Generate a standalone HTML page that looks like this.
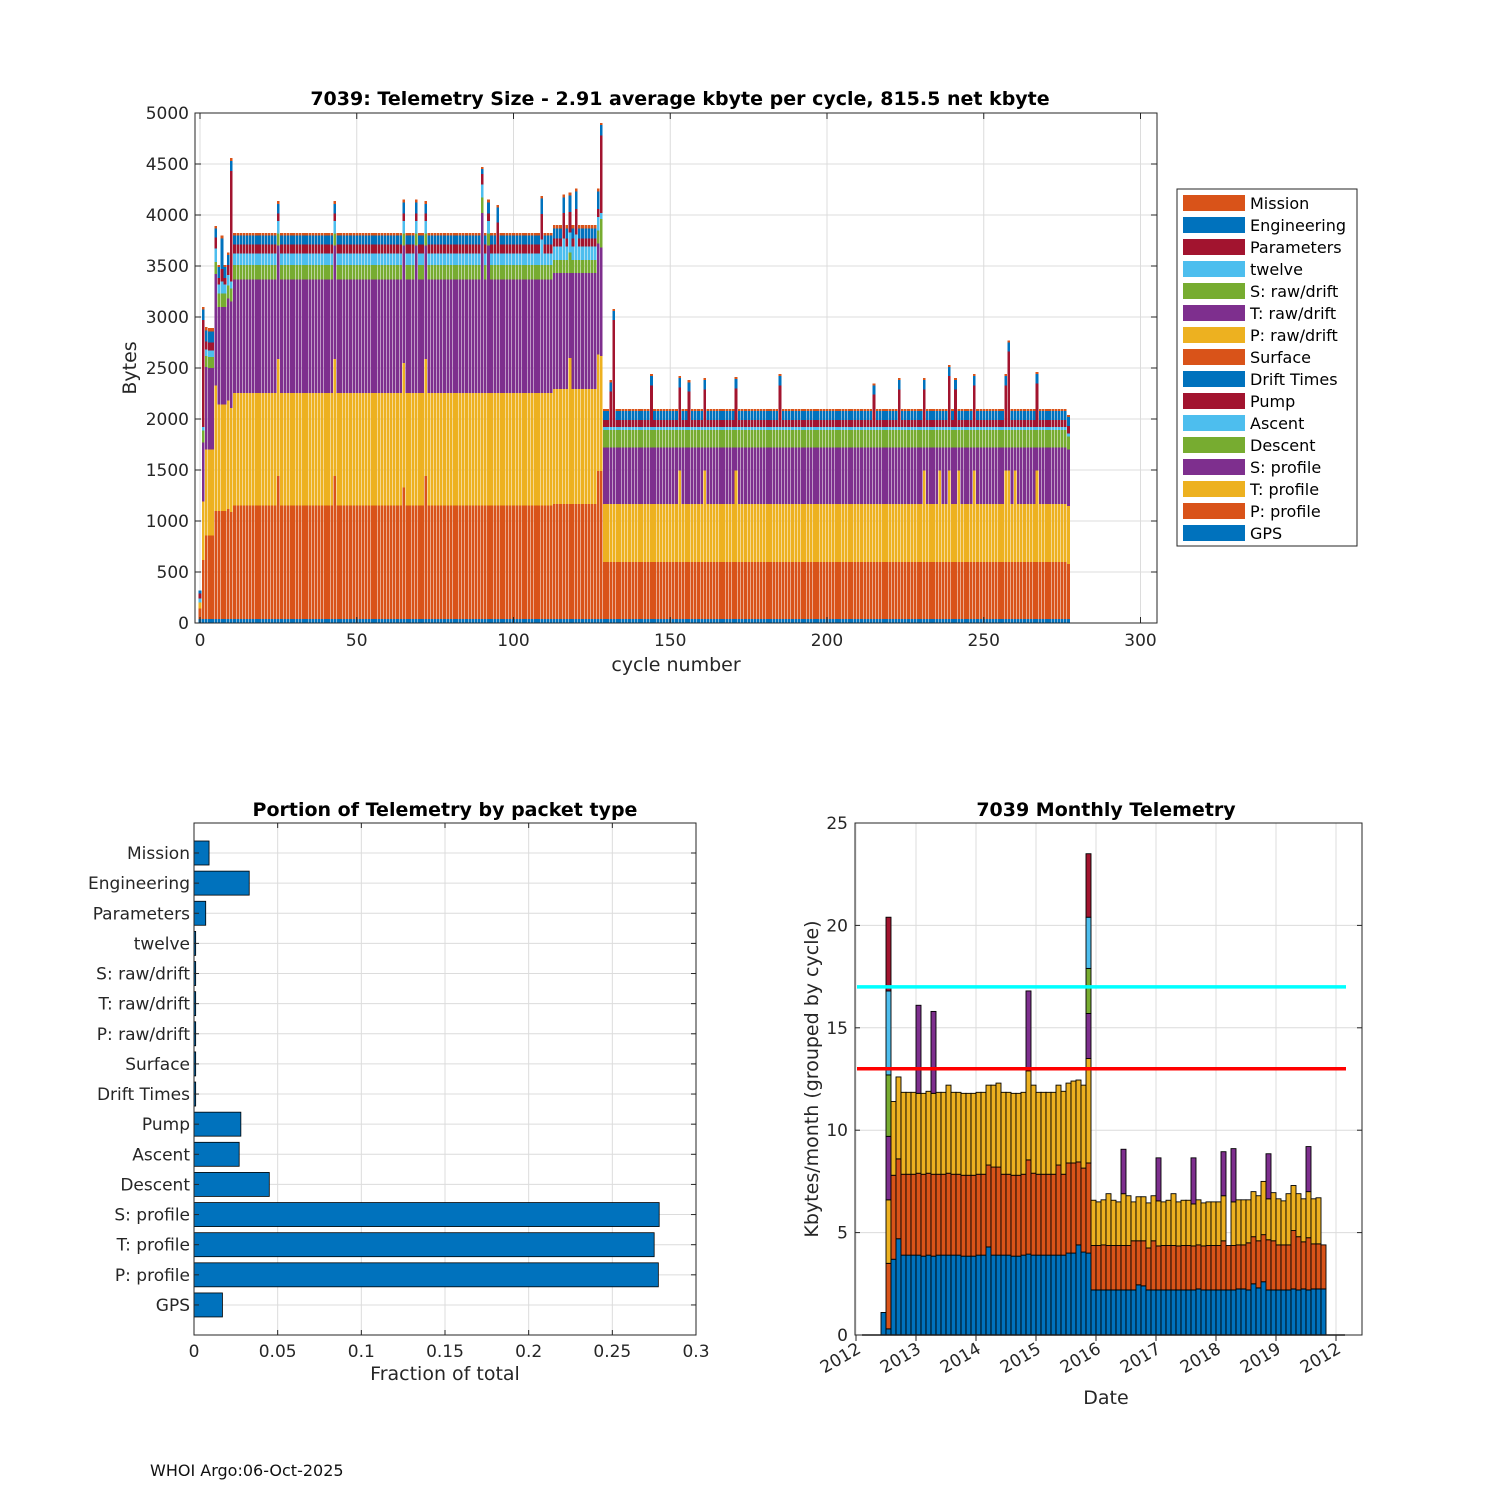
<!DOCTYPE html>
<html><head><meta charset="utf-8"><style>
html,body{margin:0;padding:0;background:#fff;}
svg{display:block;font-family:"DejaVu Sans","Liberation Sans",sans-serif;}
</style></head><body>
<svg id="fig" width="1500" height="1500" viewBox="0 0 1500 1500" xmlns="http://www.w3.org/2000/svg">
<rect width="1500" height="1500" fill="#fff"/>
<g id="top"></g>
<g id="bl"></g>
<g id="br"></g>
<text x="150" y="1476" font-size="16" fill="#111">WHOI Argo:06-Oct-2025</text>
</svg>
<script>
// ===== Top chart data (bytes per cycle, cycles 0..277) =====
const gps=[40,40,40,40,40,40,40,40,40,40,
40,40,40,40,40,40,40,40,40,40,
40,40,40,40,40,40,40,40,40,40,
40,40,40,40,40,40,40,40,40,40,
40,40,40,40,40,40,40,40,40,40,
40,40,40,40,40,40,40,40,40,40,
40,40,40,40,40,40,40,40,40,40,
40,40,40,40,40,40,40,40,40,40,
40,40,40,40,40,40,40,40,40,40,
40,40,40,40,40,40,40,40,40,40,
40,40,40,40,40,40,40,40,40,40,
40,40,40,40,40,40,40,40,40,40,
40,40,40,40,40,40,40,40,40,40,
40,40,40,40,40,40,40,40,40,40,
40,40,40,40,40,40,40,40,40,40,
40,40,40,40,40,40,40,40,40,40,
40,40,40,40,40,40,40,40,40,40,
40,40,40,40,40,40,40,40,40,40,
40,40,40,40,40,40,40,40,40,40,
40,40,40,40,40,40,40,40,40,40,
40,40,40,40,40,40,40,40,40,40,
40,40,40,40,40,40,40,40,40,40,
40,40,40,40,40,40,40,40,40,40,
40,40,40,40,40,40,40,40,40,40,
40,40,40,40,40,40,40,40,40,40,
40,40,40,40,40,40,40,40,40,40,
40,40,40,40,40,40,40,40,40,40,
40,40,40,40,40,40,40,40];
const pProf=[100,580,820,820,820,1060,1060,1060,1060,1080,
1050,1110,1110,1110,1110,1110,1110,1110,1110,1110,
1110,1110,1110,1110,1110,1400,1110,1110,1110,1110,
1110,1110,1110,1110,1110,1110,1110,1110,1110,1110,
1110,1110,1110,1400,1110,1110,1110,1110,1110,1110,
1110,1110,1110,1110,1110,1110,1110,1110,1110,1110,
1110,1110,1110,1110,1110,1290,1110,1110,1110,1110,
1110,1110,1400,1110,1110,1110,1110,1110,1110,1110,
1110,1110,1110,1110,1110,1110,1110,1110,1110,1110,
1110,1110,1110,1110,1110,1110,1110,1110,1110,1110,
1110,1110,1110,1110,1110,1110,1110,1110,1110,1110,
1110,1110,1110,1125,1125,1125,1125,1125,1125,1125,
1125,1125,1125,1125,1125,1125,1125,1450,1450,560,
560,560,560,560,560,560,560,560,560,560,
560,560,560,560,560,560,560,560,560,560,
560,560,560,560,560,560,560,560,560,560,
560,560,560,560,560,560,560,560,560,560,
560,560,560,560,560,560,560,560,560,560,
560,560,560,560,560,560,560,560,560,560,
560,560,560,560,560,560,560,560,560,560,
560,560,560,560,560,560,560,560,560,560,
560,560,560,560,560,560,560,560,560,560,
560,560,560,560,560,560,560,560,560,560,
560,560,560,560,560,560,560,560,560,560,
560,560,560,560,560,560,560,560,560,560,
560,560,560,560,560,560,560,560,560,560,
560,560,560,560,560,560,560,560,560,560,
560,560,560,560,560,560,560,540];
const tProf=[60,570,840,840,840,1230,1040,1040,1040,1060,
1020,1105,1105,1105,1105,1105,1105,1105,1105,1105,
1105,1105,1105,1105,1105,1150,1105,1105,1105,1105,
1105,1105,1105,1105,1105,1105,1105,1105,1105,1105,
1105,1105,1105,1150,1105,1105,1105,1105,1105,1105,
1105,1105,1105,1105,1105,1105,1105,1105,1105,1105,
1105,1105,1105,1105,1105,1220,1105,1105,1105,1105,
1105,1105,1150,1105,1105,1105,1105,1105,1105,1105,
1105,1105,1105,1105,1105,1105,1105,1105,1105,1105,
1105,1105,1105,1105,1105,1105,1105,1105,1105,1105,
1105,1105,1105,1105,1105,1105,1105,1105,1105,1105,
1105,1105,1105,1130,1130,1130,1130,1130,1435,1130,
1130,1130,1130,1130,1130,1130,1130,1140,1130,565,
565,565,565,565,565,565,565,565,565,565,
565,565,565,565,565,565,565,565,565,565,
565,565,565,895,565,565,565,565,565,565,
565,895,565,565,565,565,565,565,565,565,
565,895,565,565,565,565,565,565,565,565,
565,565,565,565,565,565,565,565,565,565,
565,565,565,565,565,565,565,565,565,565,
565,565,565,565,565,565,565,565,565,565,
565,565,565,565,565,565,565,565,565,565,
565,565,565,565,565,565,565,565,565,565,
565,895,565,565,565,565,895,565,565,895,
565,565,895,565,565,565,565,895,565,565,
565,565,565,565,565,565,565,895,895,565,
895,565,565,565,565,565,565,895,565,565,
565,565,565,565,565,565,565,565];
const sProf=[0,580,810,800,800,1090,960,960,960,1000,
1040,1115,1115,1115,1115,1115,1115,1115,1115,1115,
1115,1115,1115,1115,1115,1110,1115,1115,1115,1115,
1115,1115,1115,1115,1115,1115,1115,1115,1115,1115,
1115,1115,1115,1110,1115,1115,1115,1115,1115,1115,
1115,1115,1115,1115,1115,1115,1115,1115,1115,1115,
1115,1115,1115,1115,1115,1150,1115,1115,1115,1445,
1115,1115,1110,1115,1115,1115,1115,1115,1115,1115,
1115,1115,1115,1115,1115,1115,1115,1115,1115,1115,
1765,1115,1445,1115,1115,1115,1115,1115,1115,1115,
1115,1115,1115,1115,1115,1115,1115,1115,1115,1115,
1115,1115,1115,1135,1135,1135,1135,1135,830,1135,
1135,1135,1135,1135,1135,1135,1135,1090,1060,555,
555,555,555,555,555,555,555,555,555,555,
555,555,555,555,555,555,555,555,555,555,
555,555,555,225,555,555,555,555,555,555,
555,225,555,555,555,555,555,555,555,555,
555,225,555,555,555,555,555,555,555,555,
555,555,555,555,555,555,555,555,555,555,
555,555,555,555,555,555,555,555,555,555,
555,555,555,555,555,555,555,555,555,555,
555,555,555,555,555,555,555,555,555,555,
555,555,555,555,555,555,555,555,555,555,
555,225,555,555,555,555,225,555,555,225,
555,555,225,555,555,555,555,225,555,555,
555,555,555,555,555,555,555,225,225,555,
225,555,555,555,555,555,555,225,555,555,
555,555,555,555,555,555,555,555];
const descent=[0,115,110,110,110,120,130,130,130,130,
130,140,140,140,140,140,140,140,140,140,
140,140,140,140,140,120,140,140,140,140,
140,140,140,140,140,140,140,140,140,140,
140,140,140,120,140,140,140,140,140,140,
140,140,140,140,140,140,140,140,140,140,
140,140,140,140,140,120,140,140,140,120,
140,140,120,140,140,140,140,140,140,140,
140,140,140,140,140,140,140,140,140,140,
150,140,120,140,140,140,140,140,140,140,
140,140,140,140,140,140,140,140,140,140,
140,140,140,130,130,130,130,130,200,130,
130,130,130,130,130,130,130,130,280,170,
170,170,170,170,170,170,170,170,170,170,
170,170,170,170,170,170,170,170,170,170,
170,170,170,170,170,170,170,170,170,170,
170,170,170,170,170,170,170,170,170,170,
170,170,170,170,170,170,170,170,170,170,
170,170,170,170,170,170,170,170,170,170,
170,170,170,170,170,170,170,170,170,170,
170,170,170,170,170,170,170,170,170,170,
170,170,170,170,170,170,170,170,170,170,
170,170,170,170,170,170,170,170,170,170,
170,170,170,170,170,170,170,170,170,170,
170,170,170,170,170,170,170,170,170,170,
170,170,170,170,170,170,170,170,170,170,
170,170,170,170,170,170,170,170,170,170,
170,170,170,170,170,170,170,130];
const ascent=[40,35,60,60,60,130,90,120,90,100,
70,115,115,115,115,115,115,115,115,115,
115,115,115,115,115,120,115,115,115,115,
115,115,115,115,115,115,115,115,115,115,
115,115,115,120,115,115,115,115,115,115,
115,115,115,115,115,115,115,115,115,115,
115,115,115,115,115,120,115,115,115,120,
115,115,120,115,115,115,115,115,115,115,
115,115,115,115,115,115,115,115,115,115,
130,115,120,115,115,115,115,115,115,115,
115,115,115,115,115,115,115,115,115,250,
115,115,115,130,130,130,210,130,200,130,
250,130,130,130,130,130,130,130,60,30,
30,30,30,30,30,30,30,30,30,30,
30,30,30,30,30,30,30,30,30,30,
30,30,30,30,30,30,30,30,30,30,
30,30,30,30,30,30,30,30,30,30,
30,30,30,30,30,30,30,30,30,30,
30,30,30,30,30,30,30,30,30,30,
30,30,30,30,30,30,30,30,30,30,
30,30,30,30,30,30,30,30,30,30,
30,30,30,30,30,30,30,30,30,30,
30,30,30,30,30,30,30,30,30,30,
30,30,30,30,30,30,30,30,30,30,
30,30,30,30,30,30,30,30,30,30,
30,30,30,30,30,30,30,30,30,30,
30,30,30,30,30,30,30,30,30,30,
30,30,30,30,30,30,30,30];
const pump=[50,1050,80,80,80,110,60,120,60,100,
1080,85,85,85,85,85,85,85,85,85,
85,85,85,85,85,75,85,85,85,85,
85,85,85,85,85,85,85,85,85,85,
85,85,85,75,85,85,85,85,85,85,
85,85,85,85,85,85,85,85,85,85,
85,85,85,85,85,75,85,85,85,75,
85,85,75,85,85,85,85,85,85,85,
85,85,85,85,85,85,85,85,85,85,
100,85,75,85,85,300,85,85,85,85,
85,85,85,85,85,85,85,85,85,250,
85,85,85,80,80,80,250,80,200,80,
250,80,80,80,80,80,80,80,760,70,
70,350,1050,70,70,70,70,70,70,70,
70,70,70,70,410,70,70,70,70,70,
70,70,70,390,70,70,350,70,70,70,
70,370,70,70,70,70,70,70,70,70,
70,380,70,70,70,70,70,70,70,70,
70,70,70,70,70,410,70,70,70,70,
70,70,70,70,70,70,70,70,70,70,
70,70,70,70,70,70,70,70,70,70,
70,70,70,70,70,320,70,70,70,70,
70,70,70,370,70,70,70,70,70,70,
70,370,70,70,70,70,70,70,70,500,
70,370,70,70,70,70,70,410,70,70,
70,70,70,70,70,70,70,410,740,70,
70,70,70,70,70,70,70,430,70,70,
70,70,70,70,70,70,70,70];
const engineering=[30,105,110,110,110,90,110,300,110,100,
100,90,90,90,90,90,90,90,90,90,
90,90,90,90,90,95,90,90,90,90,
90,90,90,90,90,90,90,90,90,90,
90,90,90,95,90,90,90,90,90,90,
90,90,90,90,90,90,90,90,90,90,
90,90,90,90,90,110,90,90,90,110,
90,90,95,90,90,90,90,90,90,90,
90,90,90,90,90,90,90,90,90,90,
50,90,110,90,90,150,90,90,90,90,
90,90,90,90,90,90,90,90,90,150,
90,90,90,100,100,100,150,100,160,100,
170,100,100,100,100,100,100,170,100,90,
90,90,90,90,90,90,90,90,90,90,
90,90,90,90,90,90,90,90,90,90,
90,90,90,90,90,90,90,90,90,90,
90,90,90,90,90,90,90,90,90,90,
90,90,90,90,90,90,90,90,90,90,
90,90,90,90,90,90,90,90,90,90,
90,90,90,90,90,90,90,90,90,90,
90,90,90,90,90,90,90,90,90,90,
90,90,90,90,90,90,90,90,90,90,
90,90,90,90,90,90,90,90,90,90,
90,90,90,90,90,90,90,90,90,90,
90,90,90,90,90,90,90,90,90,90,
90,90,90,90,90,90,90,90,90,90,
90,90,90,90,90,90,90,90,90,90,
90,90,90,90,90,90,90,90];
const mission=[0,25,30,30,30,20,20,30,20,20,
30,25,25,25,25,25,25,25,25,25,
25,25,25,25,25,25,25,25,25,25,
25,25,25,25,25,25,25,25,25,25,
25,25,25,25,25,25,25,25,25,25,
25,25,25,25,25,25,25,25,25,25,
25,25,25,25,25,25,25,25,25,25,
25,25,25,25,25,25,25,25,25,25,
25,25,25,25,25,25,25,25,25,25,
20,25,25,25,25,25,25,25,25,25,
25,25,25,25,25,25,25,25,25,25,
25,25,25,30,30,30,30,30,30,30,
30,30,30,30,30,30,30,30,20,20,
20,20,20,20,20,20,20,20,20,20,
20,20,20,20,20,20,20,20,20,20,
20,20,20,20,20,20,20,20,20,20,
20,20,20,20,20,20,20,20,20,20,
20,20,20,20,20,20,20,20,20,20,
20,20,20,20,20,20,20,20,20,20,
20,20,20,20,20,20,20,20,20,20,
20,20,20,20,20,20,20,20,20,20,
20,20,20,20,20,20,20,20,20,20,
20,20,20,20,20,20,20,20,20,20,
20,20,20,20,20,20,20,20,20,20,
20,20,20,20,20,20,20,20,20,20,
20,20,20,20,20,20,20,20,20,20,
20,20,20,20,20,20,20,20,20,20,
20,20,20,20,20,20,20,20];
const topXTicks=[0,50,100,150,200,250,300];
const topYTicks=[0,500,1000,1500,2000,2500,3000,3500,4000,4500,5000];
const legendLabels=["Mission","Engineering","Parameters","twelve","S: raw/drift","T: raw/drift","P: raw/drift","Surface","Drift Times","Pump","Ascent","Descent","S: profile","T: profile","P: profile","GPS"];

// ===== Bottom-left data =====
const packetNames=["Mission","Engineering","Parameters","twelve","S: raw/drift","T: raw/drift","P: raw/drift","Surface","Drift Times","Pump","Ascent","Descent","S: profile","T: profile","P: profile","GPS"];
const packetFractions=[0.009,0.033,0.007,0.001,0.001,0.001,0.001,0.001,0.001,0.028,0.027,0.045,0.278,0.275,0.2775,0.017];
const fracTicks=[0,0.05,0.1,0.15,0.2,0.25,0.3];
const fracTickLabels=["0","0.05","0.1","0.15","0.2","0.25","0.3"];

// ===== Bottom-right monthly data (month index from Jan 2012) =====
const monthIdx=[5,6,7,8,9,10,11,12,13,14,15,16,17,18,19,20,21,22,23,24,25,26,27,28,29,30,31,32,33,34,35,36,37,38,39,40,41,42,43,44,45,46,47,48,49,50,51,52,53,54,55,56,57,58,59,60,61,62,63,64,65,66,67,68,69,70,71,72,73,74,75,76,77,78,79,80,81,82,83,84,85,86,87,88,89,90,91,92,93];
const mBlue=[1.1,0.3,3.7,4.7,3.9,3.9,3.9,3.9,3.85,3.9,3.85,3.9,3.9,3.9,3.9,3.9,3.85,3.85,3.85,3.9,3.9,4.3,3.9,3.9,3.9,3.9,3.85,3.85,3.9,3.95,3.9,3.9,3.9,3.9,3.9,3.9,3.9,4.0,4.0,4.4,4.05,4.0,
2.2,2.2,2.2,2.2,2.2,2.2,2.2,2.2,2.2,2.45,2.4,2.2,2.2,2.2,2.2,2.2,2.2,2.2,2.2,2.2,2.2,2.25,2.2,2.2,2.2,2.2,2.2,2.2,2.2,2.25,2.25,2.2,2.5,2.3,2.6,2.2,2.2,2.2,2.2,2.2,2.25,2.2,2.25,2.2,2.25,2.25,2.25];
const mOrange=[0,3.2,4.1,3.9,3.95,3.95,3.95,4.0,4.0,4.0,4.0,3.95,3.95,4.0,3.95,3.95,3.95,3.95,3.95,3.95,3.95,4.0,4.3,4.3,3.95,3.95,3.95,3.95,3.95,4.6,4.0,3.95,3.95,3.95,3.95,4.4,3.95,4.4,4.4,4.05,4.1,4.4,
2.17,2.17,2.2,2.17,2.17,2.17,2.17,2.17,2.4,2.15,2.2,2.05,2.4,2.15,2.17,2.17,2.17,2.15,2.17,2.17,2.15,2.15,2.15,2.17,2.17,2.17,2.4,2.17,2.17,2.15,2.15,2.3,2.3,2.3,2.3,2.45,2.4,2.2,2.2,2.2,2.85,2.6,2.3,2.55,2.2,2.2,2.15];
const mYellow=[0,3.1,3.6,4.0,4.0,4.0,4.0,3.9,3.95,4.0,3.95,4.0,4.0,4.3,4.0,4.0,4.0,4.0,4.0,4.0,4.0,3.9,4.0,4.1,4.0,4.0,4.0,4.0,4.0,4.35,4.3,4.0,4.0,4.0,4.0,3.9,4.05,3.9,4.0,4.0,4.05,5.1,
2.21,2.13,2.2,2.53,2.21,2.13,2.53,2.43,1.9,2.15,2.15,2.2,2.2,2.2,2.13,2.21,2.53,2.15,2.21,2.21,2.05,2.2,2.1,2.13,2.13,2.13,2.2,0,2.13,2.2,2.2,2.1,2.2,2.2,2.6,2.0,2.35,2.25,2.15,2.5,2.2,2.1,2.1,2.25,2.2,2.25,0];
const mPurple=[0,3.1,0,0,0,0,0,4.3,0,0,4.0,0,0,0,0,0,0,0,0,0,0,0,0,0,0,0,0,0,0,3.9,0,0,0,0,0,0,0,0,0,0,0,2.2,
0,0,0,0,0,0,2.17,0,0,0,0,0,0,2.1,0,0,0,0,0,0,2.25,0,0,0,0,0,2.15,0,2.6,0,0,0,0,0,0,2.2,0,0,0,0,0,0,0,2.2,0,0,0];
const mGreen=[0,3.0,0,0,0,0,0,0,0,0,0,0,0,0,0,0,0,0,0,0,0,0,0,0,0,0,0,0,0,0,0,0,0,0,0,0,0,0,0,0,0,2.2,
0,0,0,0,0,0,0,0,0,0,0,0,0,0,0,0,0,0,0,0,0,0,0,0,0,0,0,0,0,0,0,0,0,0,0,0,0,0,0,0,0,0,0,0,0,0,0];
const mCyan=[0,4.1,0,0,0,0,0,0,0,0,0,0,0,0,0,0,0,0,0,0,0,0,0,0,0,0,0,0,0,0,0,0,0,0,0,0,0,0,0,0,0,2.5,
0,0,0,0,0,0,0,0,0,0,0,0,0,0,0,0,0,0,0,0,0,0,0,0,0,0,0,0,0,0,0,0,0,0,0,0,0,0,0,0,0,0,0,0,0,0,0];
const mRed=[0,3.6,0,0,0,0,0,0,0,0,0,0,0,0,0,0,0,0,0,0,0,0,0,0,0,0,0,0,0,0,0,0,0,0,0,0,0,0,0,0,0,3.1,
0,0,0,0,0,0,0,0,0,0,0,0,0,0,0,0,0,0,0,0,0,0,0,0,0,0,0,0,0,0,0,0,0,0,0,0,0,0,0,0,0,0,0,0,0,0,0];
const monthYTicks=[0,5,10,15,20,25];
const yearTickLabels=["2012","2013","2014","2015","2016","2017","2018","2019","2012"];
const limitLines=[17,13];

const NS="http://www.w3.org/2000/svg";
const C={blue:"#0072BD",orange:"#D95319",yellow:"#EDB120",purple:"#7E2F8E",green:"#77AC30",cyan:"#4DBEEE",red:"#A2142F"};
function mk(parent,tag,attrs,txt){const e=document.createElementNS(NS,tag);for(const k in attrs)e.setAttribute(k,attrs[k]);if(txt!==undefined)e.textContent=txt;parent.appendChild(e);return e;}

// ===== Top chart =====
(function(){
const g=document.getElementById('top');
const L=195,R=1157,T=113,B=623;
const xs=v=>200+v*3.135, ys=v=>B-v*(B-T)/5000;
mk(g,'rect',{x:L,y:T,width:R-L,height:B-T,fill:'#fff'});
topXTicks.forEach(v=>{const l=mk(g,'line',{x1:xs(v),x2:xs(v),y1:T,y2:B,stroke:'#dcdcdc','stroke-width':1});

});
topYTicks.forEach(v=>{const l=mk(g,'line',{x1:L,x2:R,y1:ys(v),y2:ys(v),stroke:'#dcdcdc','stroke-width':1});

});
const series=[[gps,C.blue],[pProf,C.orange],[tProf,C.yellow],[sProf,C.purple],[descent,C.green],[ascent,C.cyan],[pump,C.red],[engineering,C.blue],[mission,C.orange]];
const bars=mk(g,'g',{'shape-rendering':'crispEdges'});


const n=pProf.length;
for(let c=0;c<n;c++){
  let acc=0;
  series.forEach(([arr,col])=>{const v=arr[c];if(!v){return;}
    const y0=ys(acc),y1=ys(acc+v);acc+=v;
    const r=mk(bars,'rect',{x:(xs(c)-1.35).toFixed(2),y:y1.toFixed(2),width:2.7,height:(y0-y1).toFixed(2),fill:col});
    
    
  });
}
mk(g,'rect',{x:L,y:T,width:R-L,height:B-T,fill:'none',stroke:'#262626','stroke-width':1});
topXTicks.forEach(v=>{mk(g,'line',{x1:xs(v),x2:xs(v),y1:B,y2:B-6,stroke:'#262626'});mk(g,'line',{x1:xs(v),x2:xs(v),y1:T,y2:T+6,stroke:'#262626'});
const t=mk(g,'text',{x:xs(v),y:B+23,'font-size':17,'text-anchor':'middle',fill:'#262626'},String(v));

});
topYTicks.forEach(v=>{mk(g,'line',{x1:L,x2:L+6,y1:ys(v),y2:ys(v),stroke:'#262626'});mk(g,'line',{x1:R,x2:R-6,y1:ys(v),y2:ys(v),stroke:'#262626'});
const t=mk(g,'text',{x:L-6,y:ys(v)+6,'font-size':17,'text-anchor':'end',fill:'#262626'},String(v));

});
const ti=mk(g,'text',{x:680,y:105,'font-size':19,'font-weight':'bold','text-anchor':'middle',fill:'#000','xml:space':'preserve'},'7039: Telemetry Size - 2.91 average kbyte per cycle,  815.5 net kbyte');


const xl=mk(g,'text',{x:676,y:671,'font-size':19,'text-anchor':'middle',fill:'#262626'},'cycle number');


const yl=mk(g,'text',{x:0,y:0,'font-size':19,'text-anchor':'middle',fill:'#262626',transform:'translate(136,368) rotate(-90)'},'Bytes');


// legend
const lg=mk(g,'g',{});


mk(lg,'rect',{x:1177,y:189,width:180,height:357,fill:'#fff',stroke:'#262626','stroke-width':1});
const lcol=[C.orange,C.blue,C.red,C.cyan,C.green,C.purple,C.yellow,C.orange,C.blue,C.red,C.cyan,C.green,C.purple,C.yellow,C.orange,C.blue];
legendLabels.forEach((lab,i)=>{const y=203+i*22;
const e=mk(lg,'g',{});


mk(e,'rect',{x:1183,y:y-8,width:62,height:16,fill:lcol[i]});
mk(e,'text',{x:1250,y:y+6,'font-size':16,fill:'#000'},lab);});
})();

// ===== Bottom-left chart =====
(function(){
const g=document.getElementById('bl');
const L=194,R=696,T=823,B=1335;
const xs=v=>L+v*(R-L)/0.3, yc=i=>853+i*30.13;
mk(g,'rect',{x:L,y:T,width:R-L,height:B-T,fill:'#fff'});
fracTicks.forEach(v=>{mk(g,'line',{x1:xs(v),x2:xs(v),y1:T,y2:B,stroke:'#dcdcdc'});});
packetNames.forEach((n,i)=>{mk(g,'line',{x1:L,x2:R,y1:yc(i),y2:yc(i),stroke:'#dcdcdc'});});
packetFractions.forEach((v,i)=>{const r=mk(g,'rect',{x:xs(0),y:yc(i)-12,width:Math.max(xs(v)-xs(0),0.5),height:24,fill:C.blue,stroke:'#000','stroke-width':0.8});

});
mk(g,'rect',{x:L,y:T,width:R-L,height:B-T,fill:'none',stroke:'#262626'});
fracTicks.forEach((v,i)=>{mk(g,'line',{x1:xs(v),x2:xs(v),y1:B,y2:B-5,stroke:'#262626'});mk(g,'line',{x1:xs(v),x2:xs(v),y1:T,y2:T+5,stroke:'#262626'});
const t=mk(g,'text',{x:xs(v),y:B+22,'font-size':17,'text-anchor':'middle',fill:'#262626'},fracTickLabels[i]);

});
packetNames.forEach((n,i)=>{mk(g,'line',{x1:L,x2:L+5,y1:yc(i),y2:yc(i),stroke:'#262626'});mk(g,'line',{x1:R,x2:R-5,y1:yc(i),y2:yc(i),stroke:'#262626'});
const t=mk(g,'text',{x:L-4,y:yc(i)+6,'font-size':17,'text-anchor':'end',fill:'#262626'},n);

});
const ti=mk(g,'text',{x:445,y:816,'font-size':19,'font-weight':'bold','text-anchor':'middle',fill:'#000'},'Portion of Telemetry by packet type');


const xl=mk(g,'text',{x:445,y:1380,'font-size':19,'text-anchor':'middle',fill:'#262626'},'Fraction of total');


})();

// ===== Bottom-right chart =====
(function(){
const g=document.getElementById('br');
const L=855,R=1362,T=823,B=1335;
const xm=m=>856+m*5, ys=v=>B-v*(B-T)/25;
mk(g,'rect',{x:L,y:T,width:R-L,height:B-T,fill:'#fff'});
yearTickLabels.forEach((s,i)=>{mk(g,'line',{x1:xm(i*12),x2:xm(i*12),y1:T,y2:B,stroke:'#dcdcdc'});});
monthYTicks.forEach(v=>{mk(g,'line',{x1:L,x2:R,y1:ys(v),y2:ys(v),stroke:'#dcdcdc'});});
const stacks=[[mBlue,C.blue],[mOrange,C.orange],[mYellow,C.yellow],[mPurple,C.purple],[mGreen,C.green],[mCyan,C.cyan],[mRed,C.red]];
monthIdx.forEach((m,i)=>{let acc=0;
 stacks.forEach(([arr,col])=>{const v=arr[i];if(!v)return;const y0=ys(acc),y1=ys(acc+v);acc+=v;
  const r=mk(g,'rect',{x:xm(m),y:y1.toFixed(2),width:5,height:(y0-y1).toFixed(2),fill:col,stroke:'#000','stroke-width':0.9});
  
  });});
mk(g,'line',{x1:862,x2:1345,y1:B,y2:B,stroke:'#000','stroke-width':1.5});
const limCol=['#00FFFF','#FF0000'];
limitLines.forEach((v,i)=>{const l=mk(g,'line',{x1:857,x2:1346,y1:ys(v),y2:ys(v),stroke:limCol[i],'stroke-width':3.5});

});
mk(g,'rect',{x:L,y:T,width:R-L,height:B-T,fill:'none',stroke:'#262626'});
monthYTicks.forEach(v=>{mk(g,'line',{x1:L,x2:L+5,y1:ys(v),y2:ys(v),stroke:'#262626'});mk(g,'line',{x1:R,x2:R-5,y1:ys(v),y2:ys(v),stroke:'#262626'});
const t=mk(g,'text',{x:L-7,y:ys(v)+6,'font-size':17,'text-anchor':'end',fill:'#262626'},String(v));

});
yearTickLabels.forEach((s,i)=>{const x=xm(i*12);mk(g,'line',{x1:x,x2:x,y1:B,y2:B+6,stroke:'#262626'});
const t=mk(g,'text',{x:0,y:0,'font-size':17,'text-anchor':'end',fill:'#262626',transform:`translate(${x+6},${B+17}) rotate(-30)`},s);

});
const ti=mk(g,'text',{x:1106,y:816,'font-size':19,'font-weight':'bold','text-anchor':'middle',fill:'#000'},'7039 Monthly Telemetry');


const xl=mk(g,'text',{x:1106,y:1404,'font-size':19,'text-anchor':'middle',fill:'#262626'},'Date');


const yl=mk(g,'text',{x:0,y:0,'font-size':19,'text-anchor':'middle',fill:'#262626',transform:'translate(818,1079) rotate(-90)'},'Kbytes/month (grouped by cycle)');


})();
</script>
</body></html>
